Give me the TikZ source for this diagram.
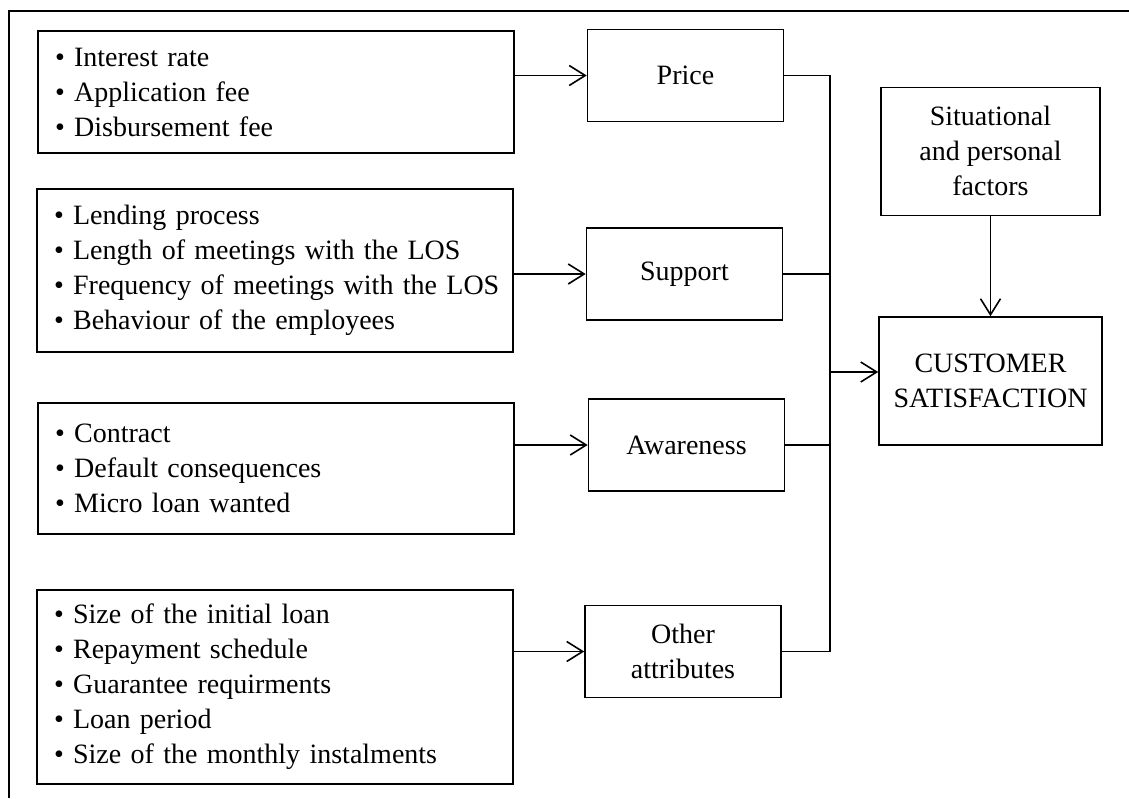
\documentclass[tikz,border=0pt]{standalone}
\usepackage{fontspec}
\setmainfont{Liberation Serif}
\usepackage{tikz}
\usetikzlibrary{positioning,arrows.meta}

\begin{document}
\begin{tikzpicture}
[x=0.5pt, y=-0.5pt,
font=\fontsize{14}{17.5}\selectfont,
line width=0.8pt,
>={Straight Barb[length=8pt,width=10pt]},
list-a/.style={rectangle, draw, minimum width=238pt, text width=227pt, inner xsep=5.5pt, align=left},
cell-a/.style={rectangle, draw, minimum width=98pt, minimum height=46pt, align=center},
cell-b/.style={rectangle, draw, minimum width=111.5pt, minimum height=64pt, align=center},]
\useasboundingbox (0,0) rectangle (1129,798);
%\draw [dotted, step=50] (0,0) grid (1129,798);
\draw (9,798) -- (9,11) -- (1129,11);
\node (list-price)   [list-a, minimum height=61pt]   at (276,92)    {\hspace*{3pt}• Interest rate\\\hspace*{3pt}• Application fee\\\hspace*{3pt}• Disbursement fee};
\node (list-support) [list-a, minimum height=81.5pt] at (275,270.5) {\hspace*{3pt}• Lending process\\\hspace*{3pt}• Length of meetings with the LOS\\\hspace*{3pt}• Frequency of meetings with the LOS\\\hspace*{3pt}• Behaviour of the employees};
\node (list-aware)   [list-a, minimum height=65.5pt] at (276,468.5) {\hspace*{3pt}• Contract\\\hspace*{3pt}• Default consequences\\\hspace*{3pt}• Micro loan wanted};
\node (list-other)   [list-a, minimum height=97pt]   at (275,687)   {\hspace*{3pt}• Size of the initial loan\\\hspace*{3pt}• Repayment schedule\\\hspace*{3pt}• Guarantee requirments\\\hspace*{3pt}• Loan period\\\hspace*{3pt}• Size of the monthly instalments};
\node (cell-price)   [cell-a] at (685.5,75.5) {Price};
\node (cell-support) [cell-a] at (684.5,274)  {Support};
\node (cell-aware)   [cell-a] at (686.5,445)  {Awareness};
\node (cell-other)   [cell-a] at (683,651.5)  {Other\\attributes};
\node (cell-cs)  [cell-b] at (990.5,381) {CUSTOMER\\SATISFACTION};
\node (cell-sit) [cell-b, minimum width=109.5pt, above = 50pt of cell-cs] {Situational\\and personal\\factors};
\coordinate (bus) at (830,372);
\draw [->] (list-price.east |- cell-price.west) -- (cell-price.west);
\draw [->] (list-support.east |- cell-support.west) -- (cell-support.west);
\draw [->] (list-aware.east |- cell-aware.west) -- (cell-aware.west);
\draw [->] (list-other.east |- cell-other.west) -- (cell-other.west);
\draw (cell-price.east) -- (cell-price.east -| bus) -- (cell-other.east -| bus) -- (cell-other.east);
\draw (cell-support.east) -- (cell-support.east -| bus);
\draw (cell-aware.east) -- (cell-aware.east -| bus);
\draw [->] (bus) -- (bus -| cell-cs.west);
\draw [->] (cell-sit.south) -- (cell-sit.south |- cell-cs.north);
\end{tikzpicture}
\end{document}
